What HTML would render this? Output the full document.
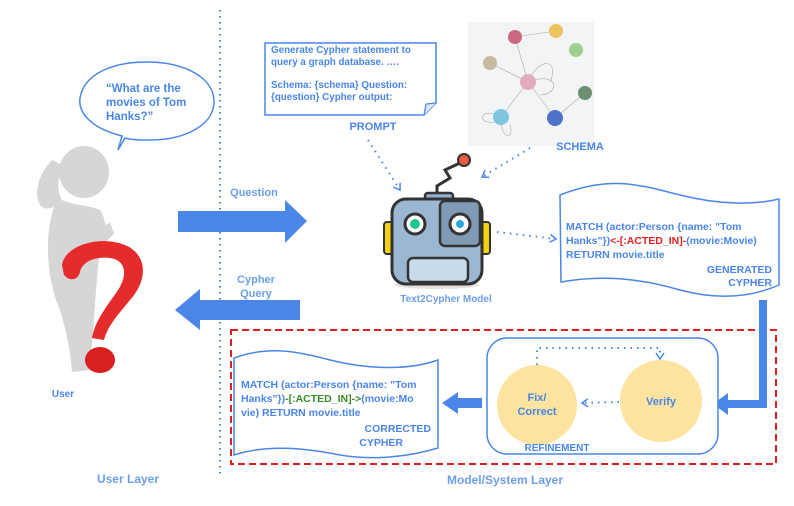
<!DOCTYPE html>
<html><head><meta charset="utf-8"><style>
body{margin:0;background:#fff}
svg{display:block}
text{font-family:"Liberation Sans",sans-serif;font-weight:bold}
</style></head><body>
<svg width="794" height="506" viewBox="0 0 794 506" xmlns="http://www.w3.org/2000/svg">
<defs>
<marker id="ah" markerUnits="userSpaceOnUse" markerWidth="10" markerHeight="10" refX="7" refY="5" orient="auto"><path d="M1,1 L7,5 L1,9" fill="none" stroke="#4a86e8" stroke-width="1.5"/></marker>
</defs>
<line x1="220" y1="10" x2="220" y2="478" stroke="#4a86e8" stroke-width="2" stroke-dasharray="1.5,4.5"/>
<!-- speech bubble -->
<path d="M118,150 L122,136 C90,128 78,112 80,98 C84,74 112,62 147,62 C185,62 215,78 214,103 C213,125 185,140 150,140 C140,140 132,140 125,138 Z" fill="#fff" stroke="#4a86e8" stroke-width="1.5"/>
<text font-size="11.5" fill="#4a86e8"><tspan x="106" y="92">“What are the</tspan><tspan x="106" y="106">movies of Tom</tspan><tspan x="106" y="120">Hanks?”</tspan></text>
<!-- person -->
<g fill="#d6d6d6">
<ellipse cx="84" cy="172" rx="25" ry="26"/>
<path d="M52,160 C42,170 32,190 40,205 C46,212 55,208 62,200 C56,190 58,175 64,166 Z"/>
<path d="M58,198 C72,206 90,205 100,210 C108,222 106,235 100,245 L96,290 C94,320 92,345 90,370 L72,372 C70,345 64,320 56,300 C46,270 44,225 58,198 Z"/>
<path d="M62,252 C80,242 98,232 110,222 L114,234 C102,246 86,256 70,264 Z"/>
</g>
<path d="M62,265 C65,245 100,235 125,245 C148,255 148,280 130,300 C118,315 108,325 104,340 L92,338 C95,320 108,305 118,290 C128,275 126,260 110,258 C95,256 82,262 80,272 C78,280 70,282 64,275 Z" fill="#e52b2b"/>
<ellipse cx="100" cy="360" rx="15" ry="13" fill="#d92020"/>
<text x="63" y="397" font-size="10" fill="#4a86e8" text-anchor="middle">User</text>
<text x="128" y="483" font-size="12" fill="#6d9eeb" text-anchor="middle">User Layer</text>
<!-- arrows -->
<path d="M178,211 H285 V200 L307,221 L285,243 V232 H178 Z" fill="#4a86e8"/>
<text x="254" y="196" font-size="11" fill="#6d9eeb" text-anchor="middle">Question</text>
<path d="M300,300 H200 V289 L175,310 L200,330 V320 H300 Z" fill="#4a86e8"/>
<text font-size="11" fill="#6d9eeb" text-anchor="middle"><tspan x="256" y="283">Cypher</tspan><tspan x="256" y="297">Query</tspan></text>
<!-- prompt box -->
<path d="M265,43 H436 V103 L424,115 H265 Z" fill="#fff" stroke="#4a86e8" stroke-width="1.5"/>
<path d="M424,115 L426,104 L436,103" fill="#dde8fb" stroke="#4a86e8" stroke-width="1.2"/>
<text font-size="9.8" fill="#4a86e8"><tspan x="271" y="53">Generate Cypher statement to</tspan><tspan x="271" y="65">query a graph database. ….</tspan><tspan x="271" y="88">Schema: {schema} Question:</tspan><tspan x="271" y="100">{question} Cypher output:</tspan></text>
<text x="373" y="130" font-size="11" fill="#4a86e8" text-anchor="middle">PROMPT</text>
<!-- schema image -->
<rect x="468" y="22" width="126" height="124" fill="#f3f4f6"/>
<g stroke="#aaa" stroke-width="0.6" fill="none">
<line x1="515" y1="37" x2="528" y2="82"/><line x1="515" y1="37" x2="556" y2="31"/>
<line x1="490" y1="63" x2="528" y2="82"/><line x1="528" y1="82" x2="501" y2="117"/>
<line x1="528" y1="82" x2="555" y2="118"/><line x1="555" y1="118" x2="585" y2="93"/>
<path d="M528,82 C540,55 560,60 550,82"/><path d="M528,82 C560,70 560,95 540,95"/>
<path d="M501,117 C480,105 475,125 495,122"/><path d="M501,117 C500,140 515,140 510,125"/>
</g>
<circle cx="515" cy="37" r="7" fill="#c9687f"/><circle cx="556" cy="31" r="7" fill="#ecc35c"/>
<circle cx="576" cy="50" r="7" fill="#9fcf8e"/><circle cx="490" cy="63" r="7" fill="#c7b99e"/>
<circle cx="528" cy="82" r="8" fill="#e4aabf"/><circle cx="585" cy="93" r="7" fill="#6b8f70"/>
<circle cx="501" cy="117" r="8" fill="#7fc5e0"/><circle cx="555" cy="118" r="8" fill="#4d74c9"/>
<text x="580" y="150" font-size="11" fill="#4a86e8" text-anchor="middle">SCHEMA</text>
<!-- dotted arrows -->
<line x1="368" y1="140" x2="400" y2="190" stroke="#4a86e8" stroke-width="2" stroke-dasharray="1.5,5" marker-end="url(#ah)"/>
<line x1="530" y1="148" x2="482" y2="177" stroke="#4a86e8" stroke-width="2" stroke-dasharray="1.5,5" marker-end="url(#ah)"/>
<line x1="497" y1="232" x2="556" y2="239" stroke="#4a86e8" stroke-width="2" stroke-dasharray="1.5,5" marker-end="url(#ah)"/>
<!-- robot -->
<path d="M437,196 V186 L450,178 L445,170 L462,162" fill="none" stroke="#333" stroke-width="3"/>
<circle cx="464" cy="160" r="6" fill="#f05a3a" stroke="#333" stroke-width="2"/>
<rect x="425" y="193" width="28" height="8" rx="3" fill="#8fb1cf" stroke="#333" stroke-width="2.5"/>
<rect x="384" y="222" width="10" height="32" rx="3" fill="#f5d20f" stroke="#333" stroke-width="2"/>
<rect x="480" y="222" width="10" height="32" rx="3" fill="#f5d20f" stroke="#333" stroke-width="2"/>
<ellipse cx="437" cy="285" rx="42" ry="4" fill="#e2e2e2"/>
<rect x="392" y="199" width="90" height="85" rx="14" fill="#9cb7d1" stroke="#333" stroke-width="3"/>
<rect x="440" y="201" width="40" height="45" rx="5" fill="#7f9ab5" stroke="#333" stroke-width="2.5"/>
<circle cx="415" cy="224" r="10" fill="#fff" stroke="#333" stroke-width="3"/><circle cx="415" cy="224" r="5" fill="#1ec98b"/>
<circle cx="460" cy="224" r="10" fill="#fff" stroke="#333" stroke-width="3"/><circle cx="460" cy="224" r="4" fill="#2aa5e0"/>
<rect x="408" y="258" width="60" height="24" rx="5" fill="#c8dbea" stroke="#333" stroke-width="2.5"/>
<text x="446" y="302" font-size="10" fill="#6d9eeb" text-anchor="middle">Text2Cypher Model</text>
<!-- generated cypher doc -->
<path d="M560,195 C610,175 640,185 680,195 C720,205 755,205 779,199 V285 C745,300 710,298 680,290 C640,278 600,275 561,282 Z" fill="#fff" stroke="#4a86e8" stroke-width="1.5"/>
<text font-size="10.5" fill="#4a86e8"><tspan x="566" y="230">MATCH (actor:Person {name: "Tom</tspan><tspan x="566" y="244">Hanks"})<tspan fill="#e52222">&lt;-[:ACTED_IN]-</tspan>(movie:Movie)</tspan><tspan x="566" y="258">RETURN movie.title</tspan></text>
<text font-size="10.5" fill="#4a86e8" text-anchor="end"><tspan x="772" y="273">GENERATED</tspan><tspan x="772" y="286">CYPHER</tspan></text>
<!-- red dashed -->
<rect x="231" y="330" width="545" height="134" fill="none" stroke="#e02020" stroke-width="2" stroke-dasharray="7,4"/>
<!-- L arrow -->
<path d="M763,300 V404 H726" fill="none" stroke="#4a86e8" stroke-width="8"/>
<path d="M728,393 L713,404 L728,415 Z" fill="#4a86e8"/>
<!-- refinement -->
<rect x="487" y="338" width="231" height="116" rx="20" fill="#fff" stroke="#4a86e8" stroke-width="1.5"/>
<circle cx="661" cy="401" r="41" fill="#fce3a0"/>
<circle cx="537" cy="405" r="40" fill="#fce3a0"/>
<text x="661" y="405" font-size="11" fill="#4a86e8" text-anchor="middle">Verify</text>
<text font-size="11" fill="#4a86e8" text-anchor="middle"><tspan x="537" y="401">Fix/</tspan><tspan x="537" y="415">Correct</tspan></text>
<path d="M537,365 V348 H660 V359" fill="none" stroke="#4a86e8" stroke-width="2" stroke-dasharray="1.5,5" marker-end="url(#ah)"/>
<line x1="619" y1="402" x2="582" y2="403" stroke="#4a86e8" stroke-width="2" stroke-dasharray="1.5,5" marker-end="url(#ah)"/>
<text x="557" y="451" font-size="10" fill="#4a86e8" text-anchor="middle">REFINEMENT</text>
<!-- arrow to corrected -->
<path d="M482,398 H458 V392 L442,403 L458,414 V408 H482 Z" fill="#4a86e8"/>
<!-- corrected doc -->
<path d="M234,358 C270,345 300,352 330,360 C370,370 410,370 438,360 V448 C405,458 370,460 340,455 C300,447 265,445 234,455 Z" fill="#fff" stroke="#4a86e8" stroke-width="1.5"/>
<text font-size="10.5" fill="#4a86e8"><tspan x="241" y="388">MATCH (actor:Person {name: "Tom</tspan><tspan x="241" y="402">Hanks"})<tspan fill="#3a8a28">-[:ACTED_IN]-&gt;</tspan>(movie:Mo</tspan><tspan x="241" y="416">vie) RETURN movie.title</tspan></text>
<text font-size="10.5" fill="#4a86e8" text-anchor="end"><tspan x="431" y="432">CORRECTED</tspan><tspan x="403" y="446">CYPHER</tspan></text>
<text x="505" y="484" font-size="12" fill="#6d9eeb" text-anchor="middle">Model/System Layer</text>
</svg>
</body></html>
